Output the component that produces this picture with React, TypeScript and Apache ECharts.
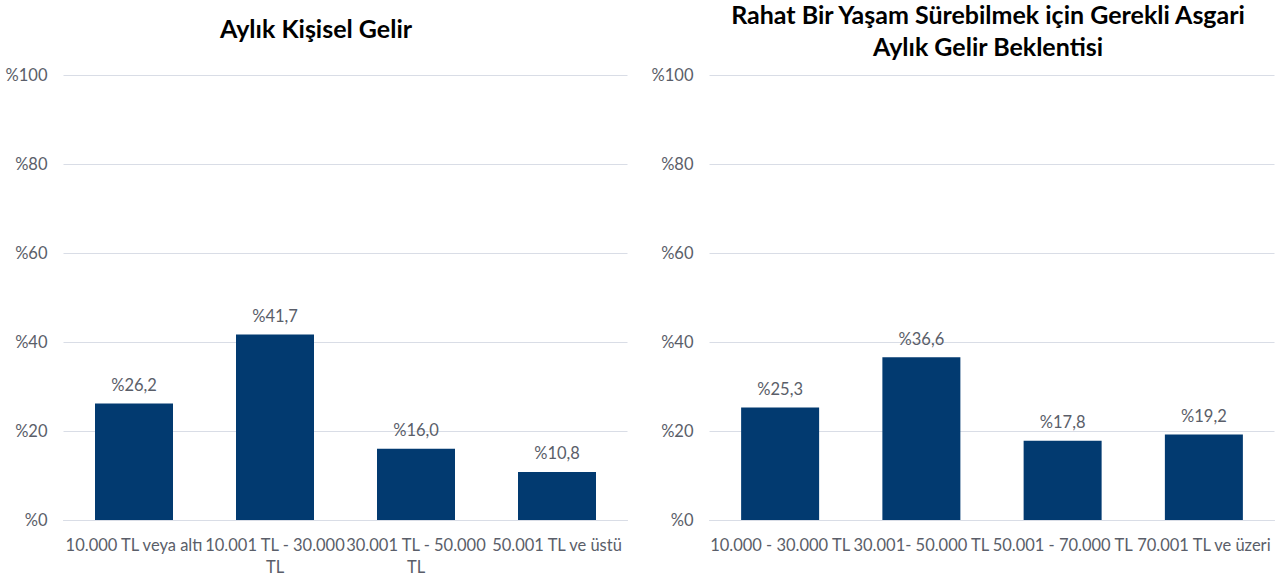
import React, { useEffect, useRef } from "react";
import * as echarts from "echarts";

const leftTitle = "Aylık Kişisel Gelir";
const rightTitle = "Rahat Bir Yaşam Sürebilmek için Gerekli Asgari\nAylık Gelir Beklentisi";
const leftCategories = ["10.000 TL veya altı", "10.001 TL - 30.000 TL", "30.001 TL - 50.000 TL", "50.001 TL ve üstü"];
const leftValues = [26.2, 41.7, 16.0, 10.8];
const rightCategories = ["10.000 - 30.000 TL", "30.001- 50.000 TL", "50.001 - 70.000 TL", "70.001 TL ve üzeri"];
const rightValues = [25.3, 36.6, 17.8, 19.2];
const yTicks = [0, 20, 40, 60, 80, 100];

const FONT = "Lato";
const BAR = "#023a70";
const GRAY = "#5a5e69";

const pct = (v: number) => "%" + v.toFixed(1).replace(".", ",");

export default function App() {
  const ref = useRef<HTMLDivElement>(null);
  useEffect(() => {
    if (!ref.current) return;
    const chart = echarts.init(ref.current, null, { renderer: "svg" });
    const yAxis = (gi: number) => ({
      type: "value",
      gridIndex: gi,
      min: yTicks[0],
      max: yTicks[yTicks.length - 1],
      interval: yTicks[1] - yTicks[0],
      axisLine: { show: false },
      axisTick: { show: false },
      splitLine: { lineStyle: { color: "#d9dde6", width: 1 } },
      axisLabel: { color: GRAY, fontFamily: FONT, fontSize: 16.5, margin: 16, formatter: (v: number) => "%" + v },
    });
    const xAxis = (gi: number, cats: string[], wrap: boolean) => ({
      type: "category",
      gridIndex: gi,
      data: cats,
      axisLine: { lineStyle: { color: "#d9dde6" } },
      axisTick: { show: false },
      axisLabel: {
        color: GRAY,
        fontFamily: FONT,
        fontSize: 16.5,
        interval: 0,
        margin: 14,
        lineHeight: 22,
        formatter: (v: string) => (wrap ? v.replace(/ - (\S+) TL$/, " - $1\nTL") : v),
      },
    });
    const series = (gi: number, vals: number[]) => ({
      type: "bar",
      xAxisIndex: gi,
      yAxisIndex: gi,
      data: vals,
      barWidth: 78,
      itemStyle: { color: BAR },
      label: {
        show: true,
        position: "top",
        distance: 10,
        color: GRAY,
        fontFamily: FONT,
        fontSize: 16.5,
        formatter: (p: any) => pct(p.value),
      },
    });
    chart.setOption({
      animation: false,
      title: [
        {
          text: leftTitle,
          left: 316,
          top: 12,
          padding: 0,
          textAlign: "center",
          textStyle: { fontFamily: FONT, fontSize: 25, fontWeight: "bold", color: "#000", lineHeight: 32 },
        },
        {
          text: rightTitle,
          left: 988,
          top: -2,
          padding: 0,
          textAlign: "center",
          textStyle: { fontFamily: FONT, fontSize: 25, fontWeight: "bold", color: "#000", lineHeight: 32 },
        },
      ],
      grid: [
        { left: 63.5, width: 564, top: 75, height: 445 },
        { left: 709.5, width: 565, top: 75, height: 445 },
      ],
      xAxis: [xAxis(0, leftCategories, true), xAxis(1, rightCategories, false)],
      yAxis: [yAxis(0), yAxis(1)],
      series: [series(0, leftValues), series(1, rightValues)],
    });
    return () => chart.dispose();
  }, []);
  return <div ref={ref} style={{ position: "absolute", left: 0, top: 0, width: 1288, height: 581 }} />;
}
